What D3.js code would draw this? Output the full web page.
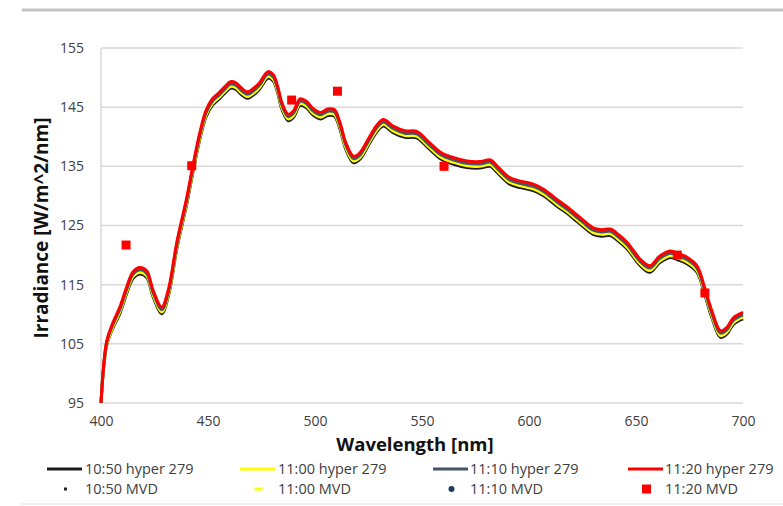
<!DOCTYPE html>
<html>
<head>
<meta charset="utf-8">
<script src="https://cdn.jsdelivr.net/npm/d3@7/dist/d3.min.js"></script>
<style>
  html, body { margin: 0; padding: 0; background: #fff; }
  svg { display: block; font-family: "Open Sans", "Liberation Sans", sans-serif; }
</style>
</head>
<body>
<svg id="chart" width="783" height="506"></svg>
<script>
// Wavelength grid (nm) shared by the hyperspectral series
const wavelength = [
  400, 402.7, 405.6, 408.9, 412, 415, 418.2, 421.4, 424.3, 428.4,
  431.5, 435.5, 440, 443, 446, 449, 452, 455, 458, 460.5,
  463, 466, 468.5, 471, 474, 478, 480.5, 482.5, 484.5, 487.5,
  490, 493, 496, 499, 502.5, 506, 509, 511.5, 514.5, 518,
  521, 525.5, 529, 532, 536.5, 542, 547.5, 553.5, 559, 564.5,
  571, 577, 582, 585, 591, 596, 602, 607, 613, 618,
  621, 625, 630, 634, 638, 642, 646, 652, 656.5, 661,
  666, 669.5, 674, 678.5, 682, 685.5, 689.5, 692.5, 695.5, 700
];

// Irradiance [W/m^2/nm], hyper 279 sensor
const hyper1050 = [
  95.0,104.8,107.7,110.2,113.5,116.1,116.8,116.2,113.0,110.1,
  113.1,121.2,128.5,134.1,139.3,143.3,145.3,146.3,147.4,148.2,
  148.0,147.0,146.5,147.0,148.0,149.9,149.4,147.5,144.7,142.7,
  143.3,145.3,144.9,143.7,143.0,143.6,143.5,141.5,137.8,135.6,
  136.2,138.9,140.9,141.8,140.7,139.9,139.8,137.9,136.2,135.4,
  134.8,134.7,135.0,134.0,132.0,131.4,130.9,130.0,128.3,127.0,
  126.1,124.9,123.5,123.2,123.3,122.3,121.0,118.2,117.1,118.7,
  119.6,119.2,118.5,117.1,113.5,109.4,106.1,106.7,108.3,109.2
];
const hyper1100 = [
  95.0,105.0,107.9,110.5,113.8,116.4,117.1,116.5,113.3,110.4,
  113.4,121.5,128.8,134.4,139.6,143.6,145.6,146.6,147.7,148.5,
  148.3,147.3,146.8,147.3,148.3,150.2,149.7,147.8,145.0,143.0,
  143.6,145.6,145.2,144.0,143.3,143.9,143.8,141.8,138.1,135.9,
  136.5,139.2,141.2,142.1,141.0,140.2,140.1,138.2,136.5,135.7,
  135.1,135.0,135.3,134.3,132.3,131.7,131.2,130.3,128.6,127.3,
  126.4,125.2,123.8,123.5,123.6,122.6,121.3,118.5,117.4,119.0,
  119.9,119.5,118.8,117.4,113.8,109.7,106.4,107.0,108.6,109.5
];
const hyper1110 = [
  95.0,105.3,108.3,110.9,114.2,116.8,117.5,116.9,113.7,110.8,
  113.8,121.9,129.2,134.8,140.0,144.0,146.0,147.0,148.1,148.9,
  148.7,147.7,147.2,147.7,148.7,150.6,150.1,148.2,145.4,143.4,
  144.0,146.0,145.6,144.4,143.7,144.3,144.2,142.2,138.5,136.3,
  136.9,139.6,141.6,142.5,141.4,140.6,140.5,138.6,136.9,136.1,
  135.5,135.4,135.7,134.7,132.7,132.1,131.6,130.7,129.0,127.7,
  126.8,125.6,124.2,123.9,124.0,123.0,121.7,118.9,117.8,119.4,
  120.3,119.9,119.2,117.8,114.2,110.1,106.8,107.4,109.0,109.9
];
const hyper1120 = [
  95.0,105.5,108.6,111.3,114.6,117.2,117.9,117.3,114.1,111.2,
  114.2,122.3,129.6,135.2,140.4,144.4,146.4,147.4,148.5,149.3,
  149.1,148.1,147.6,148.1,149.1,151.0,150.5,148.6,145.8,143.8,
  144.4,146.4,146.0,144.8,144.1,144.7,144.6,142.6,138.9,136.7,
  137.3,140.0,142.0,142.9,141.8,141.0,140.9,139.0,137.3,136.5,
  135.9,135.8,136.1,135.1,133.1,132.5,132.0,131.1,129.4,128.1,
  127.2,126.0,124.6,124.3,124.4,123.4,122.1,119.3,118.2,119.8,
  120.7,120.3,119.6,118.2,114.6,110.5,107.2,107.8,109.4,110.3
];

// MVD band measurements
const mvdWavelength = [411.7, 442.4, 489.1, 510.5, 560.3, 669.3, 682.2];
const mvd1050 = [121.5, 135.0, 146.0, 147.5, 134.9, 119.9, 113.5];
const mvd1100 = [121.6, 135.0, 146.1, 147.6, 134.9, 119.9, 113.5];
const mvd1110 = [121.6, 135.1, 146.1, 147.6, 135.0, 120.0, 113.6];
const mvd1120 = [121.7, 135.1, 146.2, 147.7, 135.0, 120.0, 113.6];

const xTicks = [400, 450, 500, 550, 600, 650, 700];
const yTicks = [95, 105, 115, 125, 135, 145, 155];

const lineNames = ["10:50 hyper 279", "11:00 hyper 279", "11:10 hyper 279", "11:20 hyper 279"];
const mvdNames = ["10:50 MVD", "11:00 MVD", "11:10 MVD", "11:20 MVD"];
const colors = ["#1a1a1a", "#ffff00", "#44546a", "#ff0000"];
const mvdColors = ["#262626", "#ffff00", "#1f3864", "#ff0000"];

const svg = d3.select("#chart");

const x = d3.scaleLinear().domain([400, 700]).range([101, 743]);
const y = d3.scaleLinear().domain([95, 155]).range([403, 48]);

// page rules above and below the figure
svg.append("line").attr("x1", 22).attr("x2", 783).attr("y1", 10).attr("y2", 10)
  .attr("stroke", "#c4c4c4").attr("stroke-width", 3);
svg.append("line").attr("x1", 20).attr("x2", 783).attr("y1", 504).attr("y2", 504)
  .attr("stroke", "#ececec").attr("stroke-width", 1.5);

// horizontal gridlines
svg.append("g").selectAll("line").data(yTicks).join("line")
  .attr("x1", x(400)).attr("x2", x(700))
  .attr("y1", d => y(d)).attr("y2", d => y(d))
  .attr("stroke", "#d9d9d9").attr("stroke-width", 1.5);

// value axis line
svg.append("line").attr("x1", x(400)).attr("x2", x(400))
  .attr("y1", y(155)).attr("y2", y(95))
  .attr("stroke", "#d9d9d9").attr("stroke-width", 1.5);

// axes (labels only)
const yAxis = svg.append("g").attr("transform", `translate(${x(400)},0)`)
  .call(d3.axisLeft(y).tickValues(yTicks).tickSize(0).tickPadding(17));
yAxis.select(".domain").remove();
yAxis.selectAll("text").attr("font-size", 14).attr("fill", "#404040")
  .attr("font-family", "'Open Sans', sans-serif");

const xAxis = svg.append("g").attr("transform", `translate(0,${y(95)})`)
  .call(d3.axisBottom(x).tickValues(xTicks).tickSize(0).tickPadding(13));
xAxis.select(".domain").remove();
xAxis.selectAll("text").attr("font-size", 14).attr("fill", "#404040")
  .attr("font-family", "'Open Sans', sans-serif");

// axis titles
svg.append("text").attr("x", 415).attr("y", 451).attr("text-anchor", "middle")
  .attr("font-size", 18.5).attr("font-weight", "bold").attr("fill", "#111")
  .text("Wavelength [nm]");
svg.append("text").attr("transform", "translate(48,228) rotate(-90)")
  .attr("text-anchor", "middle")
  .attr("font-size", 19).attr("font-weight", "bold").attr("fill", "#111")
  .text("Irradiance [W/m^2/nm]");

// hyperspectral lines
const series = [hyper1050, hyper1100, hyper1110, hyper1120];
const line = d3.line()
  .x((d, i) => x(wavelength[i]))
  .y(d => y(d))
  .curve(d3.curveCatmullRom.alpha(0.5));
svg.append("g").selectAll("path").data(series).join("path")
  .attr("d", d => line(d))
  .attr("fill", "none")
  .attr("stroke", (d, i) => colors[i])
  .attr("stroke-width", 3)
  .attr("stroke-linejoin", "round");

// MVD markers
const mvdSeries = [mvd1050, mvd1100, mvd1110, mvd1120];
function marker(sel, k, cx, cy) {
  if (k === 0) {
    sel.append("rect").attr("x", cx - 1.5).attr("y", cy - 1.5).attr("width", 3).attr("height", 3)
      .attr("fill", mvdColors[0]);
  } else if (k === 1) {
    sel.append("rect").attr("x", cx - 4).attr("y", cy - 1.5).attr("width", 8).attr("height", 3)
      .attr("fill", mvdColors[1]);
  } else if (k === 2) {
    sel.append("circle").attr("cx", cx).attr("cy", cy).attr("r", 3)
      .attr("fill", mvdColors[2]);
  } else {
    sel.append("rect").attr("x", cx - 4.5).attr("y", cy - 4.5).attr("width", 9).attr("height", 9)
      .attr("fill", mvdColors[3]);
  }
}
const mvdG = svg.append("g");
mvdSeries.forEach((vals, k) => {
  vals.forEach((v, i) => marker(mvdG, k, x(mvdWavelength[i]), y(v)));
});

// legend
const legendLineX = [47, 240, 433, 628];
const legendTextX = [85, 278, 470, 665];
const lg = svg.append("g");
lineNames.forEach((name, i) => {
  lg.append("line").attr("x1", legendLineX[i]).attr("x2", legendLineX[i] + 35)
    .attr("y1", 469).attr("y2", 469)
    .attr("stroke", colors[i]).attr("stroke-width", 3);
  lg.append("text").attr("x", legendTextX[i]).attr("y", 474)
    .attr("font-size", 14.5).attr("fill", "#404040").text(name);
});
mvdNames.forEach((name, i) => {
  marker(lg, i, legendLineX[i] + 18.5, 489);
  lg.append("text").attr("x", legendTextX[i]).attr("y", 494)
    .attr("font-size", 14.5).attr("fill", "#404040").text(name);
});
</script>
</body>
</html>
